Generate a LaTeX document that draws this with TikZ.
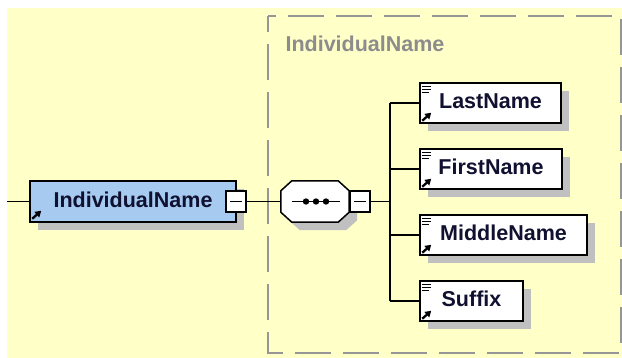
\documentclass[tikz,border=0pt]{standalone}
\usepackage{fontspec}
\setmainfont{Liberation Sans}
\usetikzlibrary{shadows,arrows.meta}

\definecolor{bg}{RGB}{255,255,200}
\definecolor{elemblue}{RGB}{166,202,240}
\definecolor{shadowgray}{RGB}{192,192,192}
\definecolor{framegray}{RGB}{150,150,150}
\definecolor{titlegray}{RGB}{140,140,140}
\definecolor{ink}{RGB}{16,16,48}

\begin{document}
\begin{tikzpicture}[
        x=1pt, y=-1pt,
        every node/.style={font=\fontsize{21.5}{25}\selectfont\bfseries, text=ink},
        shadowed/.style={drop shadow={shadow xshift=8pt, shadow yshift=-8pt, fill=shadowgray, opacity=1}},
        elem/.style={rectangle, draw=black, line width=1.5pt, fill=white, shadowed,
            minimum height=40, inner sep=0pt, text height=16pt, text depth=4pt},
        elemmain/.style={elem, fill=elemblue, minimum height=41},
        seqbox/.style={rectangle, minimum width=68, minimum height=41, inner sep=0pt},
        seqline/.style={draw=black, line width=1.5pt, fill=white, shadowed},
        minusbox/.style={rectangle, draw=black, line width=1.2pt, fill=white,
            minimum width=20, minimum height=21, inner sep=0pt,
            path picture={\draw[line width=1.2pt] ([xshift=-6pt]path picture bounding box.center) -- ([xshift=6pt]path picture bounding box.center);}},
        wire/.style={draw=black, line width=1.5pt},
        groupframe/.style={draw=framegray, line width=2pt, dash pattern=on 36pt off 12pt, dash phase=20pt},
        iconline/.style={line width=1.3pt},
        refarrow/.style={line width=2.3pt, -{Triangle[length=6pt,width=7pt]}},
    ]

    \useasboundingbox (0,0) rectangle (622,358);
    \fill[bg] (7,8) rectangle (622,358);

    % group of the complex type
    \draw[groupframe] (268,16) rectangle (621,353);
    \node[anchor=base west, text=titlegray] (grouptitle) at (282,52) {IndividualName};

    % element and sequence
    \node[elemmain, minimum width=206] (main) at (133,201.5) {IndividualName};
    \node[minusbox] (mainbtn) at (236,201.5) {};
    \node[seqbox] (seq) at (315,201.5) {};
    \path[seqline] ([xshift=11pt]seq.north west) -- ([xshift=-11pt]seq.north east)
        -- ([yshift=-10pt]seq.north east) -- ([yshift=10pt]seq.south east)
        -- ([xshift=-11pt]seq.south east) -- ([xshift=11pt]seq.south west)
        -- ([yshift=10pt]seq.south west) -- ([yshift=-10pt]seq.north west) -- cycle;
    \node[minusbox] (seqbtn) at (360,201.5) {};

    \draw[line width=1.5pt] ([xshift=-23pt]seq.center) -- ([xshift=25pt]seq.center);
    \foreach \dx in {-9,1,11}
        \fill ([xshift=\dx pt]seq.center) circle (3.2pt);

    % children
    \node[elem, minimum width=141] (last) at (490.5,103) {LastName};
    \node[elem, minimum width=142] (first) at (491,169) {FirstName};
    \node[elem, minimum width=167] (middle) at (503.5,235) {MiddleName};
    \node[elem, minimum width=103] (suffix) at (471.5,301) {Suffix};

    % icons
    \draw[refarrow] ([shift={(3pt,4pt)}]main.south west) -- ++(9pt,8pt);
    \foreach \n in {last,first,middle,suffix} {
        \draw[iconline] ([shift={(2.5pt,-4pt)}]\n.north west) -- ++(9pt,0pt)
            ([shift={(2.5pt,-7pt)}]\n.north west) -- ++(9pt,0pt)
            ([shift={(2.5pt,-10pt)}]\n.north west) -- ++(7pt,0pt);
        \draw[refarrow] ([shift={(3pt,3pt)}]\n.south west) -- ++(9pt,8pt);
    }

    % connectors
    \coordinate (in) at (7,201.5);
    \coordinate (fork) at (390,201.5);

    \path[wire]
    (in) -- (main.west)
    (mainbtn.east) -- (seq.west)
    (seqbtn.east) -- (fork)
    (fork |- last.west) -- (fork |- suffix.west)
    ;
    \foreach \n in {last,first,middle,suffix}
        \draw[wire] (fork |- \n.west) -- (\n.west);
\end{tikzpicture}
\end{document}
